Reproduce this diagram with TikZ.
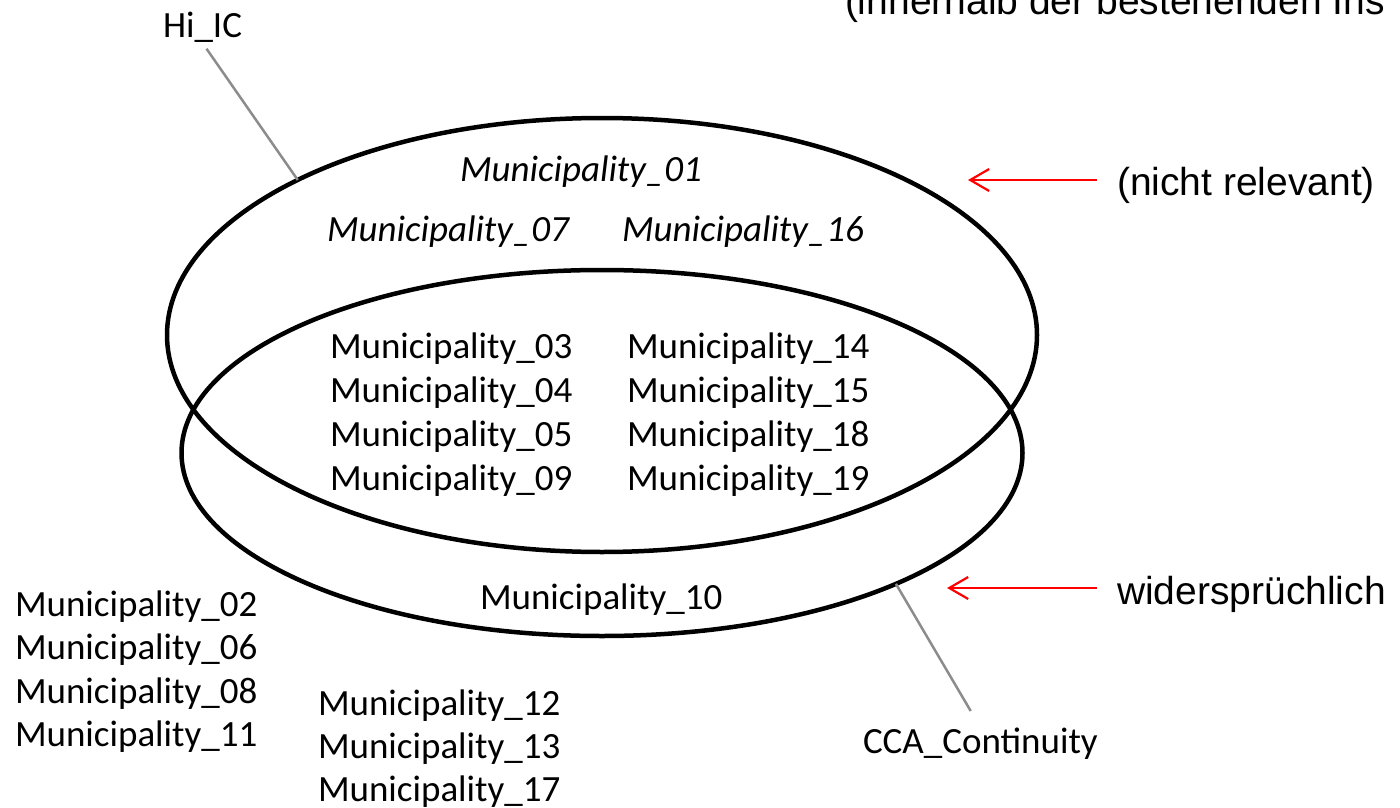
\documentclass[tikz,border=0pt]{standalone}
\usepackage{fontspec}
\setmainfont{Carlito}
\newfontfamily\arialfont{Liberation Sans}
\usetikzlibrary{shapes.geometric,arrows.meta}
\definecolor{leadgray}{HTML}{8C8C8C}
\definecolor{notered}{HTML}{FF0000}
\begin{document}
\begin{tikzpicture}[x=1pt,y=-1pt,
  lbl/.style={inner sep=0pt, outer sep=0pt, anchor=base west, font=\fontsize{37}{44}\selectfont},
  ital/.style={inner sep=0pt, outer sep=0pt, anchor=base west, font=\fontsize{37}{44}\selectfont\itshape},
  note/.style={inner sep=0pt, outer sep=0pt, anchor=base west, font=\arialfont\fontsize{39}{46}\selectfont},
  setring/.style={draw=black, line width=4.5pt, ellipse, inner sep=0pt, outer sep=0pt},
  leader/.style={draw=leadgray, line width=2.5pt},
  notearrow/.style={draw=notered, line width=2.2pt, -{Straight Barb[length=19pt, width=22pt, line width=2.2pt]}}
]
\useasboundingbox (0,0) rectangle (1400,808);

% sets
\node[setring, minimum width=870pt, minimum height=434pt] (hiset) at (602,335) {};
\node[setring, minimum width=841pt, minimum height=366pt] (ccaset) at (602,453) {};

% set labels
\node[lbl] (hilabel) at (163,38) {Hi\_IC};
\node[lbl] (ccalabel) at (863,753) {CCA\_Continuity};
\draw[leader, shorten <=7pt] (hilabel.south) -- (hiset.153.6);
\draw[leader, shorten >=19pt] (ccaset.-24) -- (ccalabel.north);

% only Hi_IC
\node[ital] (m01) at (460,181) {Municipality\_01};
\node[ital] (m07) at (327,241) {Municipality\_07};
\node[ital] (m16) at (622,241) {Municipality\_16};

% intersection
\node[lbl] (m03) at (330,358) {Municipality\_03};
\node[lbl] (m04) at (330,402) {Municipality\_04};
\node[lbl] (m05) at (330,446) {Municipality\_05};
\node[lbl] (m09) at (330,490) {Municipality\_09};
\node[lbl] (m14) at (627,358) {Municipality\_14};
\node[lbl] (m15) at (627,402) {Municipality\_15};
\node[lbl] (m18) at (627,446) {Municipality\_18};
\node[lbl] (m19) at (627,490) {Municipality\_19};

% only CCA
\node[lbl] (m10) at (480,609) {Municipality\_10};

% outside
\node[lbl] (m02) at (15,616) {Municipality\_02};
\node[lbl] (m06) at (15,659) {Municipality\_06};
\node[lbl] (m08) at (15,703) {Municipality\_08};
\node[lbl] (m11) at (15,746) {Municipality\_11};
\node[lbl] (m12) at (318,715) {Municipality\_12};
\node[lbl] (m13) at (318,758) {Municipality\_13};
\node[lbl] (m17) at (318,801) {Municipality\_17};

% notes
\node[note] (topnote) at (845,15) {(innerhalb der bestehenden Ins};
\node[note] (nrnote) at (1117,195) {(nicht relevant)};
\node[note] (wsnote) at (1117,604) {widersprüchlich};
\coordinate (nrstart) at (1097,180);
\coordinate (nrend) at (968,180);
\coordinate (wsstart) at (1097,588);
\coordinate (wsend) at (947,588);
\draw[notearrow] (nrstart) -- (nrend);
\draw[notearrow] (wsstart) -- (wsend);
\end{tikzpicture}
\end{document}
